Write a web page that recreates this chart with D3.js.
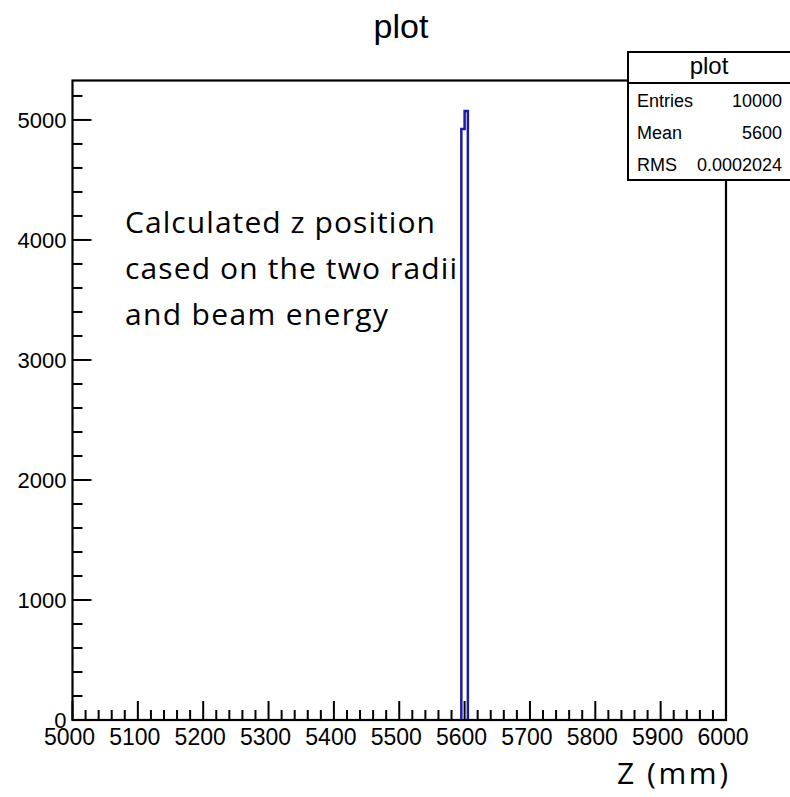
<!DOCTYPE html>
<html>
<head>
<meta charset="utf-8">
<script src="https://cdn.jsdelivr.net/npm/d3@7"></script>
<style>
  body { margin: 0; background: #fff; }
</style>
</head>
<body>
<svg id="chart"></svg>
<script>
// histogram bins (lower edge, width 5 mm) and counts
const binEdges = [5595, 5600];
const binCounts = [4925, 5075];
const binWidth = 5;
const xTicks = [5000, 5100, 5200, 5300, 5400, 5500, 5600, 5700, 5800, 5900, 6000];
const yTicks = [0, 1000, 2000, 3000, 4000, 5000];
const statLabels = ["Entries", "Mean", "RMS"];
const statValues = ["10000", "5600", "0.0002024"];
const noteLines = ["Calculated z position", "cased on the two radii", "and beam energy"];

const SANS = "'Liberation Sans', Arial, Helvetica, sans-serif";
const CAL = "'Open Sans', Lato, sans-serif";

const config = {
    width: 790, height: 797,
    margin: { top: 80.5, right: 64, bottom: 77, left: 72.5 }
};

const svg = d3.select("#chart")
    .attr("width", config.width)
    .attr("height", config.height)
    .style("font-family", SANS);

const innerW = config.width - config.margin.left - config.margin.right;
const innerH = config.height - config.margin.top - config.margin.bottom;

const xScale = d3.scaleLinear().domain([5000, 6000]).range([0, innerW]);
const yScale = d3.scaleLinear().domain([0, 5328.75]).range([innerH, 0]);

// title
svg.append("text")
    .attr("x", 401).attr("y", 38)
    .attr("text-anchor", "middle")
    .style("font-family", SANS)
    .style("font-size", "34px")
    .text("plot");

const chart = svg.append("g")
    .attr("transform", `translate(${config.margin.left},${config.margin.top})`);

// histogram outline
const pts = [[binEdges[0], 0]];
binEdges.forEach((e, i) => {
    pts.push([e, binCounts[i]]);
    pts.push([e + binWidth, binCounts[i]]);
});
pts.push([binEdges[binEdges.length - 1] + binWidth, 0]);

chart.append("path")
    .datum(pts)
    .attr("fill", "none")
    .attr("stroke", "#1c1ca4")
    .attr("stroke-width", 2.5)
    .attr("d", d3.line().x(d => xScale(d[0])).y(d => yScale(d[1])));

// frame
chart.append("rect")
    .attr("width", innerW).attr("height", innerH)
    .attr("fill", "none").attr("stroke", "#000").attr("stroke-width", 2.2);

// x axis ticks
const xMinor = d3.range(5000, 6001, 20);
chart.selectAll(".xtick").data(xMinor).enter().append("line")
    .attr("x1", d => xScale(d)).attr("x2", d => xScale(d))
    .attr("y1", innerH)
    .attr("y2", d => innerH - (d % 100 === 0 ? 19 : 10))
    .attr("stroke", "#000").attr("stroke-width", 2);

chart.selectAll(".xlab").data(xTicks).enter().append("text")
    .attr("x", d => xScale(d) - 3).attr("y", innerH + 25)
    .attr("text-anchor", "middle")
    .style("font-family", SANS)
    .style("font-size", "23px")
    .text(d => d);

// y axis ticks
const yMinor = d3.range(0, 5301, 200);
chart.selectAll(".ytick").data(yMinor).enter().append("line")
    .attr("x1", 0)
    .attr("x2", d => (d % 1000 === 0 ? 19 : 10))
    .attr("y1", d => yScale(d)).attr("y2", d => yScale(d))
    .attr("stroke", "#000").attr("stroke-width", 2);

chart.selectAll(".ylab").data(yTicks).enter().append("text")
    .attr("x", -6).attr("y", d => yScale(d) + 8)
    .attr("text-anchor", "end")
    .style("font-family", SANS)
    .style("font-size", "22px")
    .text(d => d);

// x axis title
svg.append("text")
    .attr("x", 617).attr("y", 784)
    .attr("textLength", 111).attr("lengthAdjust", "spacing")
    .style("font-family", CAL)
    .style("font-size", "30px")
    .text("Z (mm)");

// annotation
const noteWidths = [310, 332, 263];
svg.selectAll(".note").data(noteLines).enter().append("text")
    .attr("x", 125)
    .attr("y", (d, i) => 233 + i * 46)
    .attr("textLength", (d, i) => noteWidths[i])
    .attr("lengthAdjust", "spacing")
    .style("font-family", CAL)
    .style("font-size", "30px")
    .text(d => d);

// stats box
const box = svg.append("g").attr("transform", "translate(628,52)");
box.append("rect")
    .attr("width", 170).attr("height", 128)
    .attr("fill", "#fff").attr("stroke", "#000").attr("stroke-width", 2);
box.append("line")
    .attr("x1", 0).attr("x2", 170).attr("y1", 31).attr("y2", 31)
    .attr("stroke", "#000").attr("stroke-width", 2);
box.append("text")
    .attr("x", 81).attr("y", 22)
    .attr("text-anchor", "middle")
    .style("font-family", SANS)
    .style("font-size", "24px")
    .text("plot");
statLabels.forEach((s, i) => {
    box.append("text")
        .attr("x", 9).attr("y", 55 + i * 32)
        .style("font-family", SANS)
        .style("font-size", "18px")
        .text(s);
    box.append("text")
        .attr("x", 154).attr("y", 55 + i * 32)
        .attr("text-anchor", "end")
        .style("font-family", SANS)
        .style("font-size", "18px")
        .text(statValues[i]);
});
</script>
</body>
</html>
